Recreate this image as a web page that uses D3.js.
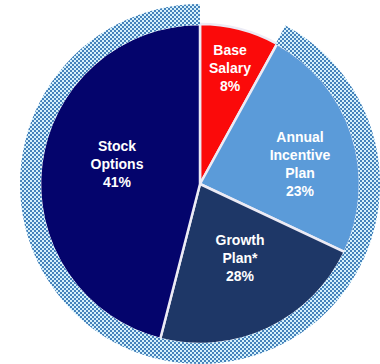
<!DOCTYPE html>
<html><head><meta charset="utf-8">
<script src="https://cdn.jsdelivr.net/npm/d3@7"></script>
<style>html,body{margin:0;padding:0;background:#fff;overflow:hidden} svg{display:block}</style>
</head><body><svg id="c" width="380" height="364"></svg>
<script>
// ---- data ----
const categories = ["Base Salary", "Annual Incentive Plan", "Growth Plan*", "Stock Options"];
const labelLines = [["Base", "Salary"], ["Annual", "Incentive", "Plan"], ["Growth", "Plan*"], ["Stock", "Options"]];
const percentLabels = ["8%", "23%", "28%", "41%"];
// slice sizes as drawn in the picture (angles measured)
const sliceShares = [8, 24, 22, 46];
// outer "at-risk" ring covers every component except base salary
const inRing = [false, true, true, true];

// ---- layout / style ----
const W = 380, H = 364;
const cx = 200, cy = 184;
const rPie = 160, rRingIn = 160, rRingOut = 180;
const colors = ["#fb0a0a", "#5b9bd9", "#1e3767", "#04046c"];
const labelOffsets = [[30, -116], [100, -20], [40, 74], [-83, -20]];
const lineH = 18;

const svg = d3.select("#c");
const defs = svg.append("defs");
const pat = defs.append("pattern").attr("id", "chk")
  .attr("patternUnits", "userSpaceOnUse").attr("width", 4).attr("height", 4);
pat.append("rect").attr("width", 4).attr("height", 4).attr("fill", "#d6f1fb");
pat.append("rect").attr("x", 0).attr("y", 0).attr("width", 2).attr("height", 2).attr("fill", "#4582bb");
pat.append("rect").attr("x", 2).attr("y", 2).attr("width", 2).attr("height", 2).attr("fill", "#4582bb");

const g = svg.append("g").attr("transform", `translate(${cx},${cy})`);

const pie = d3.pie().sort(null).value(d => d.v);
const data = pie(categories.map((c, i) => ({ c, v: sliceShares[i], i })));

// slices
const arc = d3.arc().innerRadius(0).outerRadius(rPie);
g.selectAll("path.slice").data(data).enter().append("path")
  .attr("class", "slice")
  .attr("d", arc)
  .attr("fill", d => colors[d.data.i])
  .attr("stroke", "#ecebf5")
  .attr("stroke-width", 2.5)
  .attr("stroke-linejoin", "round");

// ring (drawn over the slices' outer edge)
const ringArcs = data.filter(d => inRing[d.data.i]);
const ringStart = d3.min(ringArcs, d => d.startAngle);
const ringEnd = d3.max(ringArcs, d => d.endAngle);
g.append("path")
  .attr("d", d3.arc().innerRadius(rRingIn - 1).outerRadius(rRingOut)({ startAngle: ringStart - 0.008, endAngle: ringEnd }))
  .attr("fill", "url(#chk)");

// labels
data.forEach(d => {
  const i = d.data.i;
  const lines = labelLines[i].concat([percentLabels[i]]);
  const [ox, oy] = labelOffsets[i];
  const t = g.append("text")
    .attr("text-anchor", "middle")
    .attr("font-family", "'Liberation Sans', Arial, sans-serif")
    .attr("font-weight", "bold")
    .attr("font-size", 14)
    .attr("fill", "#ffffff");
  const n = lines.length;
  lines.forEach((ln, k) => {
    t.append("tspan")
      .attr("x", ox)
      .attr("y", oy + (k - (n - 1) / 2) * lineH + 5)
      .text(ln);
  });
});
</script>
</body></html>
